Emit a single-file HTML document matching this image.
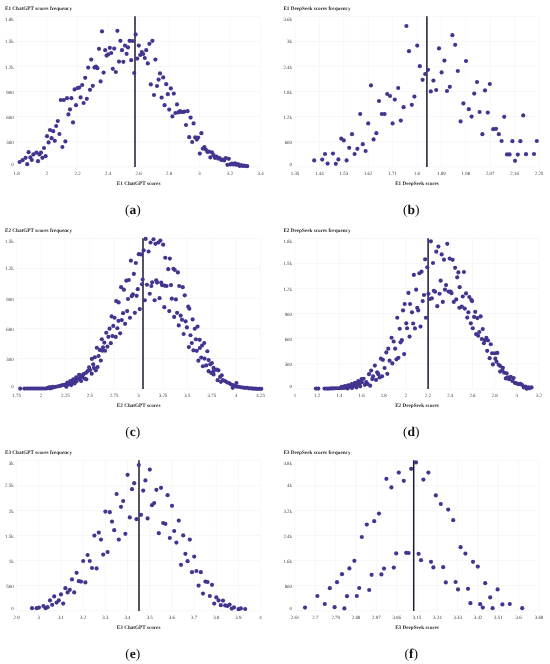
<!DOCTYPE html>
<html><head><meta charset="utf-8"><title>figure</title>
<style>
html,body{margin:0;padding:0;background:#fff;}
body{width:550px;height:664px;overflow:hidden;font-family:"Liberation Serif",serif;}
svg{display:block}
text{text-rendering:geometricPrecision}
.t{font-family:"Liberation Serif",serif;font-weight:bold;font-size:5.2px;fill:#2b2b2b}
.k{font-family:"Liberation Serif",serif;font-size:4.9px;fill:#404040}
.x{font-family:"Liberation Serif",serif;font-weight:bold;font-size:5.2px;fill:#2b2b2b}
.c{font-family:"Liberation Serif",serif;font-size:13.5px;fill:#111}
.g{stroke:#f1f1f1;stroke-width:0.6}
</style></head><body>
<svg width="550" height="664" viewBox="0 0 550 664" style="will-change:transform">
<rect width="550" height="664" fill="#fff"/>

<g>
<text class="t" x="5.0" y="10.0">E1 ChatGPT scores frequency</text>
<line class="g" x1="16.60" y1="16.40" x2="16.60" y2="166.70"/>
<text class="k" text-anchor="middle" x="16.60" y="174.50">1.8</text>
<line class="g" x1="47.10" y1="16.40" x2="47.10" y2="166.70"/>
<text class="k" text-anchor="middle" x="47.10" y="174.50">2</text>
<line class="g" x1="77.60" y1="16.40" x2="77.60" y2="166.70"/>
<text class="k" text-anchor="middle" x="77.60" y="174.50">2.2</text>
<line class="g" x1="108.10" y1="16.40" x2="108.10" y2="166.70"/>
<text class="k" text-anchor="middle" x="108.10" y="174.50">2.4</text>
<line class="g" x1="138.60" y1="16.40" x2="138.60" y2="166.70"/>
<text class="k" text-anchor="middle" x="138.60" y="174.50">2.6</text>
<line class="g" x1="169.10" y1="16.40" x2="169.10" y2="166.70"/>
<text class="k" text-anchor="middle" x="169.10" y="174.50">2.8</text>
<line class="g" x1="199.60" y1="16.40" x2="199.60" y2="166.70"/>
<text class="k" text-anchor="middle" x="199.60" y="174.50">3</text>
<line class="g" x1="230.10" y1="16.40" x2="230.10" y2="166.70"/>
<text class="k" text-anchor="middle" x="230.10" y="174.50">3.2</text>
<line class="g" x1="260.60" y1="16.40" x2="260.60" y2="166.70"/>
<text class="k" text-anchor="middle" x="260.60" y="174.50">3.4</text>
<line class="g" x1="16.60" y1="166.70" x2="260.60" y2="166.70"/>
<text class="k" text-anchor="end" x="13.60" y="166.30">0</text>
<line class="g" x1="16.60" y1="141.65" x2="260.60" y2="141.65"/>
<text class="k" text-anchor="end" x="13.60" y="143.65">300</text>
<line class="g" x1="16.60" y1="116.60" x2="260.60" y2="116.60"/>
<text class="k" text-anchor="end" x="13.60" y="118.60">600</text>
<line class="g" x1="16.60" y1="91.55" x2="260.60" y2="91.55"/>
<text class="k" text-anchor="end" x="13.60" y="93.55">900</text>
<line class="g" x1="16.60" y1="66.50" x2="260.60" y2="66.50"/>
<text class="k" text-anchor="end" x="13.60" y="68.50">1.2k</text>
<line class="g" x1="16.60" y1="41.45" x2="260.60" y2="41.45"/>
<text class="k" text-anchor="end" x="13.60" y="43.45">1.5k</text>
<line class="g" x1="16.60" y1="16.40" x2="260.60" y2="16.40"/>
<text class="k" text-anchor="end" x="13.60" y="21.10">1.8k</text>
<text class="x" text-anchor="middle" x="138.60" y="185.40">E1 ChatGPT scores</text>
<text class="c" text-anchor="middle" x="132.80" y="214.40">(<tspan font-weight="bold">a</tspan>)</text>
<line x1="135.00" y1="16.20" x2="135.00" y2="166.90" stroke="#1a1a2e" stroke-width="1.5"/>
<circle cx="19.6" cy="162.0" r="2.08" fill="#42348f"/>
<circle cx="22.6" cy="160.2" r="2.08" fill="#42348f"/>
<circle cx="25.6" cy="157.8" r="2.08" fill="#42348f"/>
<circle cx="27.2" cy="164.2" r="2.08" fill="#42348f"/>
<circle cx="28.6" cy="152.2" r="2.08" fill="#42348f"/>
<circle cx="30.4" cy="157.4" r="2.08" fill="#42348f"/>
<circle cx="31.8" cy="160.0" r="2.08" fill="#42348f"/>
<circle cx="33.4" cy="154.4" r="2.08" fill="#42348f"/>
<circle cx="36.4" cy="152.6" r="2.08" fill="#42348f"/>
<circle cx="38.0" cy="161.2" r="2.08" fill="#42348f"/>
<circle cx="39.4" cy="154.4" r="2.08" fill="#42348f"/>
<circle cx="41.0" cy="152.6" r="2.08" fill="#42348f"/>
<circle cx="42.4" cy="157.8" r="2.08" fill="#42348f"/>
<circle cx="44.0" cy="148.0" r="2.08" fill="#42348f"/>
<circle cx="45.6" cy="156.2" r="2.08" fill="#42348f"/>
<circle cx="47.0" cy="136.2" r="2.08" fill="#42348f"/>
<circle cx="48.6" cy="142.4" r="2.08" fill="#42348f"/>
<circle cx="50.0" cy="130.0" r="2.08" fill="#42348f"/>
<circle cx="51.6" cy="138.2" r="2.08" fill="#42348f"/>
<circle cx="53.2" cy="131.2" r="2.08" fill="#42348f"/>
<circle cx="54.8" cy="140.8" r="2.08" fill="#42348f"/>
<circle cx="56.2" cy="126.0" r="2.08" fill="#42348f"/>
<circle cx="57.8" cy="121.0" r="2.08" fill="#42348f"/>
<circle cx="59.4" cy="134.0" r="2.08" fill="#42348f"/>
<circle cx="62.4" cy="147.0" r="2.08" fill="#42348f"/>
<circle cx="65.4" cy="141.4" r="2.08" fill="#42348f"/>
<circle cx="60.8" cy="100.0" r="2.08" fill="#42348f"/>
<circle cx="63.8" cy="100.0" r="2.08" fill="#42348f"/>
<circle cx="67.0" cy="98.2" r="2.08" fill="#42348f"/>
<circle cx="71.4" cy="98.2" r="2.08" fill="#42348f"/>
<circle cx="68.4" cy="114.4" r="2.08" fill="#42348f"/>
<circle cx="70.0" cy="109.4" r="2.08" fill="#42348f"/>
<circle cx="73.0" cy="122.4" r="2.08" fill="#42348f"/>
<circle cx="76.0" cy="105.2" r="2.08" fill="#42348f"/>
<circle cx="80.6" cy="97.4" r="2.08" fill="#42348f"/>
<circle cx="83.6" cy="103.0" r="2.08" fill="#42348f"/>
<circle cx="86.8" cy="98.8" r="2.08" fill="#42348f"/>
<circle cx="74.6" cy="89.4" r="2.08" fill="#42348f"/>
<circle cx="77.6" cy="88.0" r="2.08" fill="#42348f"/>
<circle cx="79.2" cy="87.6" r="2.08" fill="#42348f"/>
<circle cx="82.2" cy="85.0" r="2.08" fill="#42348f"/>
<circle cx="85.2" cy="77.8" r="2.08" fill="#42348f"/>
<circle cx="88.2" cy="67.6" r="2.08" fill="#42348f"/>
<circle cx="90.0" cy="89.8" r="2.08" fill="#42348f"/>
<circle cx="91.2" cy="59.6" r="2.08" fill="#42348f"/>
<circle cx="92.8" cy="85.8" r="2.08" fill="#42348f"/>
<circle cx="94.4" cy="67.6" r="2.08" fill="#42348f"/>
<circle cx="96.0" cy="66.6" r="2.08" fill="#42348f"/>
<circle cx="97.4" cy="68.2" r="2.08" fill="#42348f"/>
<circle cx="99.0" cy="48.8" r="2.08" fill="#42348f"/>
<circle cx="100.6" cy="81.4" r="2.08" fill="#42348f"/>
<circle cx="102.0" cy="31.4" r="2.08" fill="#42348f"/>
<circle cx="103.6" cy="72.6" r="2.08" fill="#42348f"/>
<circle cx="105.2" cy="50.2" r="2.08" fill="#42348f"/>
<circle cx="106.6" cy="55.6" r="2.08" fill="#42348f"/>
<circle cx="108.2" cy="54.4" r="2.08" fill="#42348f"/>
<circle cx="109.8" cy="47.8" r="2.08" fill="#42348f"/>
<circle cx="111.2" cy="53.0" r="2.08" fill="#42348f"/>
<circle cx="112.8" cy="68.8" r="2.08" fill="#42348f"/>
<circle cx="114.2" cy="48.6" r="2.08" fill="#42348f"/>
<circle cx="115.8" cy="72.0" r="2.08" fill="#42348f"/>
<circle cx="117.4" cy="30.8" r="2.08" fill="#42348f"/>
<circle cx="119.0" cy="61.6" r="2.08" fill="#42348f"/>
<circle cx="120.4" cy="40.8" r="2.08" fill="#42348f"/>
<circle cx="122.0" cy="50.2" r="2.08" fill="#42348f"/>
<circle cx="123.4" cy="61.8" r="2.08" fill="#42348f"/>
<circle cx="125.0" cy="45.6" r="2.08" fill="#42348f"/>
<circle cx="126.6" cy="53.8" r="2.08" fill="#42348f"/>
<circle cx="128.0" cy="47.4" r="2.08" fill="#42348f"/>
<circle cx="129.6" cy="40.8" r="2.08" fill="#42348f"/>
<circle cx="131.2" cy="60.2" r="2.08" fill="#42348f"/>
<circle cx="132.6" cy="41.0" r="2.08" fill="#42348f"/>
<circle cx="134.2" cy="73.0" r="2.08" fill="#42348f"/>
<circle cx="135.6" cy="34.4" r="2.08" fill="#42348f"/>
<circle cx="137.2" cy="58.6" r="2.08" fill="#42348f"/>
<circle cx="138.8" cy="45.6" r="2.08" fill="#42348f"/>
<circle cx="140.2" cy="55.0" r="2.08" fill="#42348f"/>
<circle cx="141.8" cy="52.0" r="2.08" fill="#42348f"/>
<circle cx="143.2" cy="54.0" r="2.08" fill="#42348f"/>
<circle cx="144.8" cy="58.0" r="2.08" fill="#42348f"/>
<circle cx="146.2" cy="50.2" r="2.08" fill="#42348f"/>
<circle cx="147.8" cy="63.4" r="2.08" fill="#42348f"/>
<circle cx="149.4" cy="43.8" r="2.08" fill="#42348f"/>
<circle cx="150.8" cy="84.4" r="2.08" fill="#42348f"/>
<circle cx="152.4" cy="40.8" r="2.08" fill="#42348f"/>
<circle cx="154.0" cy="95.0" r="2.08" fill="#42348f"/>
<circle cx="155.4" cy="59.6" r="2.08" fill="#42348f"/>
<circle cx="157.0" cy="86.0" r="2.08" fill="#42348f"/>
<circle cx="158.6" cy="79.6" r="2.08" fill="#42348f"/>
<circle cx="160.0" cy="73.4" r="2.08" fill="#42348f"/>
<circle cx="163.2" cy="77.4" r="2.08" fill="#42348f"/>
<circle cx="166.2" cy="84.2" r="2.08" fill="#42348f"/>
<circle cx="161.6" cy="97.6" r="2.08" fill="#42348f"/>
<circle cx="164.6" cy="105.2" r="2.08" fill="#42348f"/>
<circle cx="167.8" cy="94.2" r="2.08" fill="#42348f"/>
<circle cx="169.2" cy="109.6" r="2.08" fill="#42348f"/>
<circle cx="170.8" cy="88.4" r="2.08" fill="#42348f"/>
<circle cx="172.4" cy="116.4" r="2.08" fill="#42348f"/>
<circle cx="173.8" cy="93.6" r="2.08" fill="#42348f"/>
<circle cx="175.4" cy="113.0" r="2.08" fill="#42348f"/>
<circle cx="177.0" cy="104.4" r="2.08" fill="#42348f"/>
<circle cx="178.4" cy="112.4" r="2.08" fill="#42348f"/>
<circle cx="180.0" cy="111.0" r="2.08" fill="#42348f"/>
<circle cx="181.4" cy="112.0" r="2.08" fill="#42348f"/>
<circle cx="183.0" cy="112.0" r="2.08" fill="#42348f"/>
<circle cx="184.4" cy="111.6" r="2.08" fill="#42348f"/>
<circle cx="186.0" cy="125.0" r="2.08" fill="#42348f"/>
<circle cx="187.6" cy="111.2" r="2.08" fill="#42348f"/>
<circle cx="190.6" cy="117.6" r="2.08" fill="#42348f"/>
<circle cx="193.6" cy="123.4" r="2.08" fill="#42348f"/>
<circle cx="189.2" cy="137.2" r="2.08" fill="#42348f"/>
<circle cx="192.2" cy="142.0" r="2.08" fill="#42348f"/>
<circle cx="195.2" cy="137.4" r="2.08" fill="#42348f"/>
<circle cx="196.8" cy="139.6" r="2.08" fill="#42348f"/>
<circle cx="198.2" cy="137.6" r="2.08" fill="#42348f"/>
<circle cx="199.8" cy="153.6" r="2.08" fill="#42348f"/>
<circle cx="201.4" cy="133.2" r="2.08" fill="#42348f"/>
<circle cx="202.8" cy="148.6" r="2.08" fill="#42348f"/>
<circle cx="204.4" cy="147.0" r="2.08" fill="#42348f"/>
<circle cx="205.8" cy="149.6" r="2.08" fill="#42348f"/>
<circle cx="207.4" cy="152.0" r="2.08" fill="#42348f"/>
<circle cx="209.0" cy="151.6" r="2.08" fill="#42348f"/>
<circle cx="210.4" cy="157.4" r="2.08" fill="#42348f"/>
<circle cx="212.0" cy="152.4" r="2.08" fill="#42348f"/>
<circle cx="213.6" cy="155.2" r="2.08" fill="#42348f"/>
<circle cx="215.0" cy="158.0" r="2.08" fill="#42348f"/>
<circle cx="216.6" cy="156.6" r="2.08" fill="#42348f"/>
<circle cx="218.2" cy="158.6" r="2.08" fill="#42348f"/>
<circle cx="219.6" cy="158.0" r="2.08" fill="#42348f"/>
<circle cx="221.2" cy="160.0" r="2.08" fill="#42348f"/>
<circle cx="222.8" cy="159.6" r="2.08" fill="#42348f"/>
<circle cx="224.2" cy="160.4" r="2.08" fill="#42348f"/>
<circle cx="225.8" cy="158.0" r="2.08" fill="#42348f"/>
<circle cx="227.4" cy="164.8" r="2.08" fill="#42348f"/>
<circle cx="228.8" cy="158.8" r="2.08" fill="#42348f"/>
<circle cx="230.4" cy="164.4" r="2.08" fill="#42348f"/>
<circle cx="232.0" cy="163.6" r="2.08" fill="#42348f"/>
<circle cx="233.4" cy="164.4" r="2.08" fill="#42348f"/>
<circle cx="235.0" cy="163.4" r="2.08" fill="#42348f"/>
<circle cx="236.4" cy="164.8" r="2.08" fill="#42348f"/>
<circle cx="238.0" cy="164.0" r="2.08" fill="#42348f"/>
<circle cx="239.6" cy="166.0" r="2.08" fill="#42348f"/>
<circle cx="241.0" cy="165.0" r="2.08" fill="#42348f"/>
<circle cx="242.6" cy="166.0" r="2.08" fill="#42348f"/>
<circle cx="244.0" cy="165.6" r="2.08" fill="#42348f"/>
<circle cx="245.6" cy="166.0" r="2.08" fill="#42348f"/>
<circle cx="247.2" cy="166.2" r="2.08" fill="#42348f"/>
</g>
<g>
<text class="t" x="283.4" y="10.0">E1 DeepSeek scores frequency</text>
<line class="g" x1="295.00" y1="16.40" x2="295.00" y2="166.70"/>
<text class="k" text-anchor="middle" x="295.00" y="174.50">1.35</text>
<line class="g" x1="319.40" y1="16.40" x2="319.40" y2="166.70"/>
<text class="k" text-anchor="middle" x="319.40" y="174.50">1.44</text>
<line class="g" x1="343.80" y1="16.40" x2="343.80" y2="166.70"/>
<text class="k" text-anchor="middle" x="343.80" y="174.50">1.53</text>
<line class="g" x1="368.20" y1="16.40" x2="368.20" y2="166.70"/>
<text class="k" text-anchor="middle" x="368.20" y="174.50">1.62</text>
<line class="g" x1="392.60" y1="16.40" x2="392.60" y2="166.70"/>
<text class="k" text-anchor="middle" x="392.60" y="174.50">1.71</text>
<line class="g" x1="417.00" y1="16.40" x2="417.00" y2="166.70"/>
<text class="k" text-anchor="middle" x="417.00" y="174.50">1.8</text>
<line class="g" x1="441.40" y1="16.40" x2="441.40" y2="166.70"/>
<text class="k" text-anchor="middle" x="441.40" y="174.50">1.89</text>
<line class="g" x1="465.80" y1="16.40" x2="465.80" y2="166.70"/>
<text class="k" text-anchor="middle" x="465.80" y="174.50">1.98</text>
<line class="g" x1="490.20" y1="16.40" x2="490.20" y2="166.70"/>
<text class="k" text-anchor="middle" x="490.20" y="174.50">2.07</text>
<line class="g" x1="514.60" y1="16.40" x2="514.60" y2="166.70"/>
<text class="k" text-anchor="middle" x="514.60" y="174.50">2.16</text>
<line class="g" x1="539.00" y1="16.40" x2="539.00" y2="166.70"/>
<text class="k" text-anchor="middle" x="539.00" y="174.50">2.25</text>
<line class="g" x1="295.00" y1="166.70" x2="539.00" y2="166.70"/>
<text class="k" text-anchor="end" x="292.00" y="166.30">0</text>
<line class="g" x1="295.00" y1="141.65" x2="539.00" y2="141.65"/>
<text class="k" text-anchor="end" x="292.00" y="143.65">600</text>
<line class="g" x1="295.00" y1="116.60" x2="539.00" y2="116.60"/>
<text class="k" text-anchor="end" x="292.00" y="118.60">1.2k</text>
<line class="g" x1="295.00" y1="91.55" x2="539.00" y2="91.55"/>
<text class="k" text-anchor="end" x="292.00" y="93.55">1.8k</text>
<line class="g" x1="295.00" y1="66.50" x2="539.00" y2="66.50"/>
<text class="k" text-anchor="end" x="292.00" y="68.50">2.4k</text>
<line class="g" x1="295.00" y1="41.45" x2="539.00" y2="41.45"/>
<text class="k" text-anchor="end" x="292.00" y="43.45">3k</text>
<line class="g" x1="295.00" y1="16.40" x2="539.00" y2="16.40"/>
<text class="k" text-anchor="end" x="292.00" y="21.10">3.6k</text>
<text class="x" text-anchor="middle" x="417.00" y="185.40">E1 DeepSeek scores</text>
<text class="c" text-anchor="middle" x="411.20" y="214.40">(<tspan font-weight="bold">b</tspan>)</text>
<line x1="426.90" y1="16.20" x2="426.90" y2="166.90" stroke="#1a1a2e" stroke-width="1.5"/>
<circle cx="314.2" cy="160.4" r="2.08" fill="#42348f"/>
<circle cx="322.2" cy="159.6" r="2.08" fill="#42348f"/>
<circle cx="325.0" cy="154.0" r="2.08" fill="#42348f"/>
<circle cx="327.6" cy="163.6" r="2.08" fill="#42348f"/>
<circle cx="333.0" cy="153.6" r="2.08" fill="#42348f"/>
<circle cx="335.8" cy="163.8" r="2.08" fill="#42348f"/>
<circle cx="338.4" cy="159.4" r="2.08" fill="#42348f"/>
<circle cx="341.2" cy="138.6" r="2.08" fill="#42348f"/>
<circle cx="343.8" cy="140.4" r="2.08" fill="#42348f"/>
<circle cx="346.6" cy="160.4" r="2.08" fill="#42348f"/>
<circle cx="349.2" cy="147.8" r="2.08" fill="#42348f"/>
<circle cx="352.0" cy="134.2" r="2.08" fill="#42348f"/>
<circle cx="354.6" cy="154.0" r="2.08" fill="#42348f"/>
<circle cx="357.4" cy="148.8" r="2.08" fill="#42348f"/>
<circle cx="360.2" cy="114.0" r="2.08" fill="#42348f"/>
<circle cx="362.8" cy="144.2" r="2.08" fill="#42348f"/>
<circle cx="365.6" cy="151.0" r="2.08" fill="#42348f"/>
<circle cx="368.2" cy="123.4" r="2.08" fill="#42348f"/>
<circle cx="373.6" cy="139.4" r="2.08" fill="#42348f"/>
<circle cx="376.4" cy="133.2" r="2.08" fill="#42348f"/>
<circle cx="379.0" cy="101.0" r="2.08" fill="#42348f"/>
<circle cx="381.8" cy="114.0" r="2.08" fill="#42348f"/>
<circle cx="384.6" cy="114.0" r="2.08" fill="#42348f"/>
<circle cx="387.2" cy="94.0" r="2.08" fill="#42348f"/>
<circle cx="390.0" cy="96.0" r="2.08" fill="#42348f"/>
<circle cx="392.6" cy="123.4" r="2.08" fill="#42348f"/>
<circle cx="394.8" cy="99.6" r="2.08" fill="#42348f"/>
<circle cx="398.2" cy="88.0" r="2.08" fill="#42348f"/>
<circle cx="406.4" cy="26.0" r="2.08" fill="#42348f"/>
<circle cx="409.0" cy="51.2" r="2.08" fill="#42348f"/>
<circle cx="417.2" cy="45.6" r="2.08" fill="#42348f"/>
<circle cx="419.8" cy="66.2" r="2.08" fill="#42348f"/>
<circle cx="422.6" cy="79.8" r="2.08" fill="#42348f"/>
<circle cx="425.2" cy="74.0" r="2.08" fill="#42348f"/>
<circle cx="428.0" cy="69.8" r="2.08" fill="#42348f"/>
<circle cx="430.8" cy="91.4" r="2.08" fill="#42348f"/>
<circle cx="433.4" cy="80.6" r="2.08" fill="#42348f"/>
<circle cx="436.2" cy="90.0" r="2.08" fill="#42348f"/>
<circle cx="439.0" cy="48.4" r="2.08" fill="#42348f"/>
<circle cx="441.6" cy="72.4" r="2.08" fill="#42348f"/>
<circle cx="444.4" cy="60.6" r="2.08" fill="#42348f"/>
<circle cx="447.0" cy="91.0" r="2.08" fill="#42348f"/>
<circle cx="449.8" cy="86.8" r="2.08" fill="#42348f"/>
<circle cx="452.4" cy="35.2" r="2.08" fill="#42348f"/>
<circle cx="455.2" cy="44.8" r="2.08" fill="#42348f"/>
<circle cx="457.8" cy="71.0" r="2.08" fill="#42348f"/>
<circle cx="466.0" cy="61.0" r="2.08" fill="#42348f"/>
<circle cx="474.2" cy="93.6" r="2.08" fill="#42348f"/>
<circle cx="477.0" cy="82.0" r="2.08" fill="#42348f"/>
<circle cx="485.0" cy="90.4" r="2.08" fill="#42348f"/>
<circle cx="489.8" cy="84.0" r="2.08" fill="#42348f"/>
<circle cx="400.8" cy="120.6" r="2.08" fill="#42348f"/>
<circle cx="403.6" cy="107.2" r="2.08" fill="#42348f"/>
<circle cx="411.8" cy="104.8" r="2.08" fill="#42348f"/>
<circle cx="414.4" cy="96.6" r="2.08" fill="#42348f"/>
<circle cx="460.6" cy="121.4" r="2.08" fill="#42348f"/>
<circle cx="463.4" cy="103.4" r="2.08" fill="#42348f"/>
<circle cx="468.8" cy="109.2" r="2.08" fill="#42348f"/>
<circle cx="471.6" cy="116.6" r="2.08" fill="#42348f"/>
<circle cx="479.6" cy="112.0" r="2.08" fill="#42348f"/>
<circle cx="482.4" cy="134.2" r="2.08" fill="#42348f"/>
<circle cx="487.8" cy="112.6" r="2.08" fill="#42348f"/>
<circle cx="493.2" cy="129.2" r="2.08" fill="#42348f"/>
<circle cx="496.0" cy="128.8" r="2.08" fill="#42348f"/>
<circle cx="498.8" cy="134.2" r="2.08" fill="#42348f"/>
<circle cx="501.6" cy="141.0" r="2.08" fill="#42348f"/>
<circle cx="504.2" cy="116.8" r="2.08" fill="#42348f"/>
<circle cx="507.0" cy="154.4" r="2.08" fill="#42348f"/>
<circle cx="509.6" cy="154.4" r="2.08" fill="#42348f"/>
<circle cx="512.4" cy="141.2" r="2.08" fill="#42348f"/>
<circle cx="515.0" cy="160.8" r="2.08" fill="#42348f"/>
<circle cx="517.8" cy="154.6" r="2.08" fill="#42348f"/>
<circle cx="520.4" cy="141.2" r="2.08" fill="#42348f"/>
<circle cx="523.2" cy="115.4" r="2.08" fill="#42348f"/>
<circle cx="526.0" cy="154.2" r="2.08" fill="#42348f"/>
<circle cx="534.0" cy="154.0" r="2.08" fill="#42348f"/>
<circle cx="536.8" cy="141.0" r="2.08" fill="#42348f"/>
<circle cx="371.0" cy="85.4" r="2.08" fill="#42348f"/>
</g>
<g>
<text class="t" x="5.0" y="232.0">E2 ChatGPT scores frequency</text>
<line class="g" x1="16.60" y1="238.40" x2="16.60" y2="388.70"/>
<text class="k" text-anchor="middle" x="16.60" y="396.50">1.75</text>
<line class="g" x1="41.00" y1="238.40" x2="41.00" y2="388.70"/>
<text class="k" text-anchor="middle" x="41.00" y="396.50">2</text>
<line class="g" x1="65.40" y1="238.40" x2="65.40" y2="388.70"/>
<text class="k" text-anchor="middle" x="65.40" y="396.50">2.25</text>
<line class="g" x1="89.80" y1="238.40" x2="89.80" y2="388.70"/>
<text class="k" text-anchor="middle" x="89.80" y="396.50">2.5</text>
<line class="g" x1="114.20" y1="238.40" x2="114.20" y2="388.70"/>
<text class="k" text-anchor="middle" x="114.20" y="396.50">2.75</text>
<line class="g" x1="138.60" y1="238.40" x2="138.60" y2="388.70"/>
<text class="k" text-anchor="middle" x="138.60" y="396.50">3</text>
<line class="g" x1="163.00" y1="238.40" x2="163.00" y2="388.70"/>
<text class="k" text-anchor="middle" x="163.00" y="396.50">3.25</text>
<line class="g" x1="187.40" y1="238.40" x2="187.40" y2="388.70"/>
<text class="k" text-anchor="middle" x="187.40" y="396.50">3.5</text>
<line class="g" x1="211.80" y1="238.40" x2="211.80" y2="388.70"/>
<text class="k" text-anchor="middle" x="211.80" y="396.50">3.75</text>
<line class="g" x1="236.20" y1="238.40" x2="236.20" y2="388.70"/>
<text class="k" text-anchor="middle" x="236.20" y="396.50">4</text>
<line class="g" x1="260.60" y1="238.40" x2="260.60" y2="388.70"/>
<text class="k" text-anchor="middle" x="260.60" y="396.50">4.25</text>
<line class="g" x1="16.60" y1="388.70" x2="260.60" y2="388.70"/>
<text class="k" text-anchor="end" x="13.60" y="388.30">0</text>
<line class="g" x1="16.60" y1="358.64" x2="260.60" y2="358.64"/>
<text class="k" text-anchor="end" x="13.60" y="360.64">300</text>
<line class="g" x1="16.60" y1="328.58" x2="260.60" y2="328.58"/>
<text class="k" text-anchor="end" x="13.60" y="330.58">600</text>
<line class="g" x1="16.60" y1="298.52" x2="260.60" y2="298.52"/>
<text class="k" text-anchor="end" x="13.60" y="300.52">900</text>
<line class="g" x1="16.60" y1="268.46" x2="260.60" y2="268.46"/>
<text class="k" text-anchor="end" x="13.60" y="270.46">1.2k</text>
<line class="g" x1="16.60" y1="238.40" x2="260.60" y2="238.40"/>
<text class="k" text-anchor="end" x="13.60" y="243.10">1.5k</text>
<text class="x" text-anchor="middle" x="138.60" y="407.40">E2 ChatGPT scores</text>
<text class="c" text-anchor="middle" x="132.80" y="436.40">(<tspan font-weight="bold">c</tspan>)</text>
<line x1="143.00" y1="238.20" x2="143.00" y2="388.90" stroke="#1a1a2e" stroke-width="1.5"/>
<circle cx="116.18" cy="301.09" r="2.08" fill="#42348f"/>
<circle cx="118.64" cy="302.4" r="2.08" fill="#42348f"/>
<circle cx="121.09" cy="287.18" r="2.08" fill="#42348f"/>
<circle cx="123.87" cy="289.64" r="2.08" fill="#42348f"/>
<circle cx="126.33" cy="280.64" r="2.08" fill="#42348f"/>
<circle cx="127.96" cy="298.96" r="2.08" fill="#42348f"/>
<circle cx="128.78" cy="279.98" r="2.08" fill="#42348f"/>
<circle cx="130.91" cy="260.67" r="2.08" fill="#42348f"/>
<circle cx="131.73" cy="296.18" r="2.08" fill="#42348f"/>
<circle cx="132.87" cy="294.22" r="2.08" fill="#42348f"/>
<circle cx="133.85" cy="273.93" r="2.08" fill="#42348f"/>
<circle cx="135.82" cy="262.96" r="2.08" fill="#42348f"/>
<circle cx="136.64" cy="295.85" r="2.08" fill="#42348f"/>
<circle cx="137.78" cy="289.15" r="2.08" fill="#42348f"/>
<circle cx="138.76" cy="254.13" r="2.08" fill="#42348f"/>
<circle cx="141.05" cy="254.45" r="2.08" fill="#42348f"/>
<circle cx="142.04" cy="284.24" r="2.08" fill="#42348f"/>
<circle cx="142.69" cy="279.49" r="2.08" fill="#42348f"/>
<circle cx="143.67" cy="250.36" r="2.08" fill="#42348f"/>
<circle cx="144.82" cy="300.27" r="2.08" fill="#42348f"/>
<circle cx="145.64" cy="238.91" r="2.08" fill="#42348f"/>
<circle cx="146.95" cy="284.73" r="2.08" fill="#42348f"/>
<circle cx="148.58" cy="251.51" r="2.08" fill="#42348f"/>
<circle cx="149.73" cy="293.73" r="2.08" fill="#42348f"/>
<circle cx="150.55" cy="242.51" r="2.08" fill="#42348f"/>
<circle cx="151.36" cy="286.04" r="2.08" fill="#42348f"/>
<circle cx="152.18" cy="282.27" r="2.08" fill="#42348f"/>
<circle cx="153.49" cy="239.24" r="2.08" fill="#42348f"/>
<circle cx="154.64" cy="300.27" r="2.08" fill="#42348f"/>
<circle cx="155.45" cy="243.82" r="2.08" fill="#42348f"/>
<circle cx="156.27" cy="280.31" r="2.08" fill="#42348f"/>
<circle cx="157.09" cy="282.6" r="2.08" fill="#42348f"/>
<circle cx="158.4" cy="242.51" r="2.08" fill="#42348f"/>
<circle cx="159.55" cy="298.15" r="2.08" fill="#42348f"/>
<circle cx="160.36" cy="240.55" r="2.08" fill="#42348f"/>
<circle cx="161.18" cy="282.6" r="2.08" fill="#42348f"/>
<circle cx="162.0" cy="285.05" r="2.08" fill="#42348f"/>
<circle cx="163.15" cy="244.64" r="2.08" fill="#42348f"/>
<circle cx="164.45" cy="285.55" r="2.08" fill="#42348f"/>
<circle cx="165.27" cy="257.73" r="2.08" fill="#42348f"/>
<circle cx="166.58" cy="286.04" r="2.08" fill="#42348f"/>
<circle cx="168.22" cy="269.18" r="2.08" fill="#42348f"/>
<circle cx="169.85" cy="258.55" r="2.08" fill="#42348f"/>
<circle cx="171.0" cy="285.05" r="2.08" fill="#42348f"/>
<circle cx="171.82" cy="298.64" r="2.08" fill="#42348f"/>
<circle cx="173.45" cy="268.85" r="2.08" fill="#42348f"/>
<circle cx="174.76" cy="270.0" r="2.08" fill="#42348f"/>
<circle cx="175.91" cy="299.45" r="2.08" fill="#42348f"/>
<circle cx="177.87" cy="272.45" r="2.08" fill="#42348f"/>
<circle cx="179.18" cy="286.04" r="2.08" fill="#42348f"/>
<circle cx="182.76" cy="287.18" r="2.08" fill="#42348f"/>
<circle cx="184.73" cy="295.36" r="2.08" fill="#42348f"/>
<circle cx="110.82" cy="343.13" r="2.08" fill="#42348f"/>
<circle cx="111.64" cy="316.45" r="2.08" fill="#42348f"/>
<circle cx="112.45" cy="336.09" r="2.08" fill="#42348f"/>
<circle cx="113.27" cy="325.95" r="2.08" fill="#42348f"/>
<circle cx="114.58" cy="317.76" r="2.08" fill="#42348f"/>
<circle cx="115.73" cy="336.91" r="2.08" fill="#42348f"/>
<circle cx="117.36" cy="328.24" r="2.08" fill="#42348f"/>
<circle cx="118.51" cy="320.87" r="2.08" fill="#42348f"/>
<circle cx="120.15" cy="333.31" r="2.08" fill="#42348f"/>
<circle cx="121.78" cy="320.05" r="2.08" fill="#42348f"/>
<circle cx="123.09" cy="313.18" r="2.08" fill="#42348f"/>
<circle cx="125.05" cy="323.82" r="2.08" fill="#42348f"/>
<circle cx="127.18" cy="311.05" r="2.08" fill="#42348f"/>
<circle cx="129.96" cy="317.76" r="2.08" fill="#42348f"/>
<circle cx="134.87" cy="312.85" r="2.08" fill="#42348f"/>
<circle cx="139.78" cy="309.09" r="2.08" fill="#42348f"/>
<circle cx="164.33" cy="307.13" r="2.08" fill="#42348f"/>
<circle cx="169.24" cy="311.05" r="2.08" fill="#42348f"/>
<circle cx="174.15" cy="316.95" r="2.08" fill="#42348f"/>
<circle cx="177.09" cy="312.85" r="2.08" fill="#42348f"/>
<circle cx="178.73" cy="325.45" r="2.08" fill="#42348f"/>
<circle cx="180.69" cy="315.64" r="2.08" fill="#42348f"/>
<circle cx="182.0" cy="319.73" r="2.08" fill="#42348f"/>
<circle cx="183.64" cy="333.96" r="2.08" fill="#42348f"/>
<circle cx="185.6" cy="321.36" r="2.08" fill="#42348f"/>
<circle cx="186.91" cy="327.42" r="2.08" fill="#42348f"/>
<circle cx="188.22" cy="306.64" r="2.08" fill="#42348f"/>
<circle cx="189.36" cy="308.76" r="2.08" fill="#42348f"/>
<circle cx="188.87" cy="347.05" r="2.08" fill="#42348f"/>
<circle cx="190.51" cy="335.27" r="2.08" fill="#42348f"/>
<circle cx="191.82" cy="342.96" r="2.08" fill="#42348f"/>
<circle cx="192.64" cy="319.4" r="2.08" fill="#42348f"/>
<circle cx="193.45" cy="350.33" r="2.08" fill="#42348f"/>
<circle cx="194.76" cy="328.73" r="2.08" fill="#42348f"/>
<circle cx="195.91" cy="339.36" r="2.08" fill="#42348f"/>
<circle cx="196.73" cy="350.82" r="2.08" fill="#42348f"/>
<circle cx="197.55" cy="326.6" r="2.08" fill="#42348f"/>
<circle cx="198.36" cy="360.64" r="2.08" fill="#42348f"/>
<circle cx="199.67" cy="339.85" r="2.08" fill="#42348f"/>
<circle cx="199.84" cy="348.04" r="2.08" fill="#42348f"/>
<circle cx="89.09" cy="367.42" r="2.08" fill="#42348f"/>
<circle cx="91.87" cy="358.91" r="2.08" fill="#42348f"/>
<circle cx="93.18" cy="364.31" r="2.08" fill="#42348f"/>
<circle cx="94.0" cy="367.91" r="2.08" fill="#42348f"/>
<circle cx="94.82" cy="357.27" r="2.08" fill="#42348f"/>
<circle cx="96.78" cy="347.78" r="2.08" fill="#42348f"/>
<circle cx="97.6" cy="367.09" r="2.08" fill="#42348f"/>
<circle cx="98.58" cy="355.96" r="2.08" fill="#42348f"/>
<circle cx="99.73" cy="349.91" r="2.08" fill="#42348f"/>
<circle cx="100.87" cy="360.55" r="2.08" fill="#42348f"/>
<circle cx="101.85" cy="339.27" r="2.08" fill="#42348f"/>
<circle cx="103.0" cy="347.45" r="2.08" fill="#42348f"/>
<circle cx="104.31" cy="342.55" r="2.08" fill="#42348f"/>
<circle cx="105.13" cy="350.73" r="2.08" fill="#42348f"/>
<circle cx="106.27" cy="332.73" r="2.08" fill="#42348f"/>
<circle cx="107.42" cy="346.64" r="2.08" fill="#42348f"/>
<circle cx="108.4" cy="336.82" r="2.08" fill="#42348f"/>
<circle cx="109.55" cy="328.64" r="2.08" fill="#42348f"/>
<circle cx="202.09" cy="345.49" r="2.08" fill="#42348f"/>
<circle cx="204.22" cy="343.04" r="2.08" fill="#42348f"/>
<circle cx="201.27" cy="357.6" r="2.08" fill="#42348f"/>
<circle cx="202.91" cy="366.27" r="2.08" fill="#42348f"/>
<circle cx="204.55" cy="358.58" r="2.08" fill="#42348f"/>
<circle cx="206.18" cy="365.45" r="2.08" fill="#42348f"/>
<circle cx="207.33" cy="351.22" r="2.08" fill="#42348f"/>
<circle cx="208.64" cy="360.05" r="2.08" fill="#42348f"/>
<circle cx="210.27" cy="364.31" r="2.08" fill="#42348f"/>
<circle cx="211.91" cy="363.0" r="2.08" fill="#42348f"/>
<circle cx="213.55" cy="367.91" r="2.08" fill="#42348f"/>
<circle cx="216.82" cy="369.55" r="2.08" fill="#42348f"/>
<circle cx="50.0" cy="388.36" r="2.08" fill="#42348f"/>
<circle cx="51.96" cy="387.87" r="2.08" fill="#42348f"/>
<circle cx="54.09" cy="387.22" r="2.08" fill="#42348f"/>
<circle cx="56.05" cy="386.73" r="2.08" fill="#42348f"/>
<circle cx="58.18" cy="386.24" r="2.08" fill="#42348f"/>
<circle cx="60.15" cy="385.91" r="2.08" fill="#42348f"/>
<circle cx="62.27" cy="385.09" r="2.08" fill="#42348f"/>
<circle cx="64.24" cy="384.76" r="2.08" fill="#42348f"/>
<circle cx="66.36" cy="384.27" r="2.08" fill="#42348f"/>
<circle cx="66.36" cy="386.73" r="2.08" fill="#42348f"/>
<circle cx="68.33" cy="383.13" r="2.08" fill="#42348f"/>
<circle cx="70.45" cy="382.31" r="2.08" fill="#42348f"/>
<circle cx="71.27" cy="385.09" r="2.08" fill="#42348f"/>
<circle cx="72.42" cy="381.0" r="2.08" fill="#42348f"/>
<circle cx="74.55" cy="383.45" r="2.08" fill="#42348f"/>
<circle cx="75.36" cy="379.85" r="2.08" fill="#42348f"/>
<circle cx="76.51" cy="381.33" r="2.08" fill="#42348f"/>
<circle cx="78.64" cy="378.55" r="2.08" fill="#42348f"/>
<circle cx="80.27" cy="375.27" r="2.08" fill="#42348f"/>
<circle cx="81.09" cy="381.0" r="2.08" fill="#42348f"/>
<circle cx="82.24" cy="376.91" r="2.08" fill="#42348f"/>
<circle cx="83.55" cy="374.13" r="2.08" fill="#42348f"/>
<circle cx="84.69" cy="378.55" r="2.08" fill="#42348f"/>
<circle cx="86.0" cy="372.82" r="2.08" fill="#42348f"/>
<circle cx="86.33" cy="379.36" r="2.08" fill="#42348f"/>
<circle cx="87.64" cy="371.18" r="2.08" fill="#42348f"/>
<circle cx="90.09" cy="370.04" r="2.08" fill="#42348f"/>
<circle cx="91.73" cy="373.64" r="2.08" fill="#42348f"/>
<circle cx="95.82" cy="370.36" r="2.08" fill="#42348f"/>
<circle cx="102.36" cy="350.73" r="2.08" fill="#42348f"/>
<circle cx="208.64" cy="371.18" r="2.08" fill="#42348f"/>
<circle cx="211.09" cy="372.82" r="2.08" fill="#42348f"/>
<circle cx="213.55" cy="371.18" r="2.08" fill="#42348f"/>
<circle cx="218.45" cy="370.36" r="2.08" fill="#42348f"/>
<circle cx="213.55" cy="374.45" r="2.08" fill="#42348f"/>
<circle cx="217.64" cy="380.18" r="2.08" fill="#42348f"/>
<circle cx="220.09" cy="376.91" r="2.08" fill="#42348f"/>
<circle cx="221.73" cy="375.27" r="2.08" fill="#42348f"/>
<circle cx="220.91" cy="381.82" r="2.08" fill="#42348f"/>
<circle cx="222.87" cy="380.18" r="2.08" fill="#42348f"/>
<circle cx="225.0" cy="381.0" r="2.08" fill="#42348f"/>
<circle cx="226.96" cy="382.31" r="2.08" fill="#42348f"/>
<circle cx="229.09" cy="382.96" r="2.08" fill="#42348f"/>
<circle cx="230.73" cy="384.27" r="2.08" fill="#42348f"/>
<circle cx="232.69" cy="385.09" r="2.08" fill="#42348f"/>
<circle cx="232.69" cy="387.87" r="2.08" fill="#42348f"/>
<circle cx="234.82" cy="385.91" r="2.08" fill="#42348f"/>
<circle cx="236.45" cy="382.96" r="2.08" fill="#42348f"/>
<circle cx="236.78" cy="386.73" r="2.08" fill="#42348f"/>
<circle cx="238.91" cy="386.73" r="2.08" fill="#42348f"/>
<circle cx="240.87" cy="387.22" r="2.08" fill="#42348f"/>
<circle cx="243.0" cy="387.55" r="2.08" fill="#42348f"/>
<circle cx="244.96" cy="387.87" r="2.08" fill="#42348f"/>
<circle cx="247.09" cy="387.87" r="2.08" fill="#42348f"/>
<circle cx="249.05" cy="388.36" r="2.08" fill="#42348f"/>
<circle cx="251.18" cy="388.36" r="2.08" fill="#42348f"/>
<circle cx="253.15" cy="388.69" r="2.08" fill="#42348f"/>
<circle cx="255.27" cy="388.69" r="2.08" fill="#42348f"/>
<circle cx="257.24" cy="388.85" r="2.08" fill="#42348f"/>
<circle cx="259.36" cy="388.85" r="2.08" fill="#42348f"/>
<circle cx="261.33" cy="388.85" r="2.08" fill="#42348f"/>
<circle cx="20.2" cy="388.6" r="2.08" fill="#42348f"/>
<circle cx="24.4" cy="388.6" r="2.08" fill="#42348f"/>
<circle cx="27.0" cy="388.5" r="2.08" fill="#42348f"/>
<circle cx="28.95" cy="388.5" r="2.08" fill="#42348f"/>
<circle cx="30.9" cy="388.5" r="2.08" fill="#42348f"/>
<circle cx="32.85" cy="388.5" r="2.08" fill="#42348f"/>
<circle cx="34.8" cy="388.5" r="2.08" fill="#42348f"/>
<circle cx="36.75" cy="388.5" r="2.08" fill="#42348f"/>
<circle cx="38.7" cy="388.5" r="2.08" fill="#42348f"/>
<circle cx="40.65" cy="388.5" r="2.08" fill="#42348f"/>
<circle cx="42.6" cy="388.5" r="2.08" fill="#42348f"/>
<circle cx="44.55" cy="388.5" r="2.08" fill="#42348f"/>
<circle cx="46.5" cy="388.5" r="2.08" fill="#42348f"/>
<circle cx="47.83" cy="387.91" r="2.08" fill="#42348f"/>
<circle cx="48.81" cy="387.63" r="2.08" fill="#42348f"/>
<circle cx="49.78" cy="387.31" r="2.08" fill="#42348f"/>
<circle cx="50.76" cy="387.69" r="2.08" fill="#42348f"/>
<circle cx="52.71" cy="386.9" r="2.08" fill="#42348f"/>
<circle cx="65.4" cy="385.34" r="2.08" fill="#42348f"/>
<circle cx="67.35" cy="382.68" r="2.08" fill="#42348f"/>
<circle cx="68.33" cy="384.49" r="2.08" fill="#42348f"/>
<circle cx="70.28" cy="381.19" r="2.08" fill="#42348f"/>
<circle cx="71.26" cy="383.47" r="2.08" fill="#42348f"/>
<circle cx="73.21" cy="379.4" r="2.08" fill="#42348f"/>
<circle cx="74.18" cy="382.25" r="2.08" fill="#42348f"/>
<circle cx="76.14" cy="377.27" r="2.08" fill="#42348f"/>
<circle cx="79.06" cy="374.77" r="2.08" fill="#42348f"/>
<circle cx="80.04" cy="379.11" r="2.08" fill="#42348f"/>
</g>
<g>
<text class="t" x="283.4" y="232.0">E2 DeepSeek scores frequency</text>
<line class="g" x1="295.00" y1="238.40" x2="295.00" y2="388.70"/>
<text class="k" text-anchor="middle" x="295.00" y="396.50">1</text>
<line class="g" x1="317.18" y1="238.40" x2="317.18" y2="388.70"/>
<text class="k" text-anchor="middle" x="317.18" y="396.50">1.2</text>
<line class="g" x1="339.36" y1="238.40" x2="339.36" y2="388.70"/>
<text class="k" text-anchor="middle" x="339.36" y="396.50">1.4</text>
<line class="g" x1="361.55" y1="238.40" x2="361.55" y2="388.70"/>
<text class="k" text-anchor="middle" x="361.55" y="396.50">1.6</text>
<line class="g" x1="383.73" y1="238.40" x2="383.73" y2="388.70"/>
<text class="k" text-anchor="middle" x="383.73" y="396.50">1.8</text>
<line class="g" x1="405.91" y1="238.40" x2="405.91" y2="388.70"/>
<text class="k" text-anchor="middle" x="405.91" y="396.50">2</text>
<line class="g" x1="428.09" y1="238.40" x2="428.09" y2="388.70"/>
<text class="k" text-anchor="middle" x="428.09" y="396.50">2.2</text>
<line class="g" x1="450.27" y1="238.40" x2="450.27" y2="388.70"/>
<text class="k" text-anchor="middle" x="450.27" y="396.50">2.4</text>
<line class="g" x1="472.45" y1="238.40" x2="472.45" y2="388.70"/>
<text class="k" text-anchor="middle" x="472.45" y="396.50">2.6</text>
<line class="g" x1="494.64" y1="238.40" x2="494.64" y2="388.70"/>
<text class="k" text-anchor="middle" x="494.64" y="396.50">2.8</text>
<line class="g" x1="516.82" y1="238.40" x2="516.82" y2="388.70"/>
<text class="k" text-anchor="middle" x="516.82" y="396.50">3</text>
<line class="g" x1="539.00" y1="238.40" x2="539.00" y2="388.70"/>
<text class="k" text-anchor="middle" x="539.00" y="396.50">3.2</text>
<line class="g" x1="295.00" y1="388.70" x2="539.00" y2="388.70"/>
<text class="k" text-anchor="end" x="292.00" y="388.30">0</text>
<line class="g" x1="295.00" y1="363.65" x2="539.00" y2="363.65"/>
<text class="k" text-anchor="end" x="292.00" y="365.65">300</text>
<line class="g" x1="295.00" y1="338.60" x2="539.00" y2="338.60"/>
<text class="k" text-anchor="end" x="292.00" y="340.60">600</text>
<line class="g" x1="295.00" y1="313.55" x2="539.00" y2="313.55"/>
<text class="k" text-anchor="end" x="292.00" y="315.55">900</text>
<line class="g" x1="295.00" y1="288.50" x2="539.00" y2="288.50"/>
<text class="k" text-anchor="end" x="292.00" y="290.50">1.2k</text>
<line class="g" x1="295.00" y1="263.45" x2="539.00" y2="263.45"/>
<text class="k" text-anchor="end" x="292.00" y="265.45">1.5k</text>
<line class="g" x1="295.00" y1="238.40" x2="539.00" y2="238.40"/>
<text class="k" text-anchor="end" x="292.00" y="243.10">1.8k</text>
<text class="x" text-anchor="middle" x="417.00" y="407.40">E2 DeepSeek scores</text>
<text class="c" text-anchor="middle" x="411.20" y="436.40">(<tspan font-weight="bold">d</tspan>)</text>
<line x1="428.10" y1="238.20" x2="428.10" y2="388.90" stroke="#1a1a2e" stroke-width="1.5"/>
<circle cx="404.69" cy="304.04" r="2.08" fill="#42348f"/>
<circle cx="410.09" cy="304.04" r="2.08" fill="#42348f"/>
<circle cx="408.45" cy="292.91" r="2.08" fill="#42348f"/>
<circle cx="413.85" cy="274.91" r="2.08" fill="#42348f"/>
<circle cx="416.15" cy="289.64" r="2.08" fill="#42348f"/>
<circle cx="419.42" cy="273.27" r="2.08" fill="#42348f"/>
<circle cx="421.55" cy="271.64" r="2.08" fill="#42348f"/>
<circle cx="422.69" cy="301.09" r="2.08" fill="#42348f"/>
<circle cx="424.0" cy="295.04" r="2.08" fill="#42348f"/>
<circle cx="425.15" cy="259.36" r="2.08" fill="#42348f"/>
<circle cx="427.27" cy="267.22" r="2.08" fill="#42348f"/>
<circle cx="428.42" cy="293.73" r="2.08" fill="#42348f"/>
<circle cx="429.73" cy="298.96" r="2.08" fill="#42348f"/>
<circle cx="430.87" cy="241.36" r="2.08" fill="#42348f"/>
<circle cx="431.85" cy="298.31" r="2.08" fill="#42348f"/>
<circle cx="433.0" cy="262.96" r="2.08" fill="#42348f"/>
<circle cx="433.82" cy="290.78" r="2.08" fill="#42348f"/>
<circle cx="435.13" cy="291.76" r="2.08" fill="#42348f"/>
<circle cx="436.27" cy="251.67" r="2.08" fill="#42348f"/>
<circle cx="438.4" cy="246.6" r="2.08" fill="#42348f"/>
<circle cx="439.55" cy="293.73" r="2.08" fill="#42348f"/>
<circle cx="440.69" cy="280.64" r="2.08" fill="#42348f"/>
<circle cx="441.67" cy="254.45" r="2.08" fill="#42348f"/>
<circle cx="442.82" cy="301.91" r="2.08" fill="#42348f"/>
<circle cx="443.96" cy="259.69" r="2.08" fill="#42348f"/>
<circle cx="444.95" cy="289.64" r="2.08" fill="#42348f"/>
<circle cx="446.09" cy="285.05" r="2.08" fill="#42348f"/>
<circle cx="447.24" cy="243.82" r="2.08" fill="#42348f"/>
<circle cx="448.55" cy="291.6" r="2.08" fill="#42348f"/>
<circle cx="449.69" cy="258.55" r="2.08" fill="#42348f"/>
<circle cx="450.67" cy="291.6" r="2.08" fill="#42348f"/>
<circle cx="451.49" cy="293.24" r="2.08" fill="#42348f"/>
<circle cx="452.64" cy="259.85" r="2.08" fill="#42348f"/>
<circle cx="453.78" cy="301.91" r="2.08" fill="#42348f"/>
<circle cx="455.09" cy="267.87" r="2.08" fill="#42348f"/>
<circle cx="456.24" cy="299.45" r="2.08" fill="#42348f"/>
<circle cx="457.22" cy="277.36" r="2.08" fill="#42348f"/>
<circle cx="458.36" cy="272.45" r="2.08" fill="#42348f"/>
<circle cx="459.67" cy="287.18" r="2.08" fill="#42348f"/>
<circle cx="463.91" cy="271.96" r="2.08" fill="#42348f"/>
<circle cx="462.76" cy="296.51" r="2.08" fill="#42348f"/>
<circle cx="466.04" cy="293.4" r="2.08" fill="#42348f"/>
<circle cx="469.31" cy="297.0" r="2.08" fill="#42348f"/>
<circle cx="471.27" cy="299.78" r="2.08" fill="#42348f"/>
<circle cx="472.09" cy="301.09" r="2.08" fill="#42348f"/>
<circle cx="374.85" cy="365.55" r="2.08" fill="#42348f"/>
<circle cx="380.91" cy="358.67" r="2.08" fill="#42348f"/>
<circle cx="382.87" cy="359.82" r="2.08" fill="#42348f"/>
<circle cx="386.31" cy="352.45" r="2.08" fill="#42348f"/>
<circle cx="388.27" cy="348.69" r="2.08" fill="#42348f"/>
<circle cx="389.58" cy="360.64" r="2.08" fill="#42348f"/>
<circle cx="391.55" cy="337.73" r="2.08" fill="#42348f"/>
<circle cx="392.36" cy="363.42" r="2.08" fill="#42348f"/>
<circle cx="393.67" cy="341.49" r="2.08" fill="#42348f"/>
<circle cx="395.15" cy="348.69" r="2.08" fill="#42348f"/>
<circle cx="396.45" cy="359.33" r="2.08" fill="#42348f"/>
<circle cx="397.27" cy="317.76" r="2.08" fill="#42348f"/>
<circle cx="398.42" cy="357.85" r="2.08" fill="#42348f"/>
<circle cx="399.73" cy="328.73" r="2.08" fill="#42348f"/>
<circle cx="400.55" cy="342.31" r="2.08" fill="#42348f"/>
<circle cx="401.85" cy="340.18" r="2.08" fill="#42348f"/>
<circle cx="403.0" cy="310.4" r="2.08" fill="#42348f"/>
<circle cx="404.15" cy="354.09" r="2.08" fill="#42348f"/>
<circle cx="406.27" cy="323.33" r="2.08" fill="#42348f"/>
<circle cx="407.09" cy="328.24" r="2.08" fill="#42348f"/>
<circle cx="409.55" cy="336.58" r="2.08" fill="#42348f"/>
<circle cx="412.0" cy="312.36" r="2.08" fill="#42348f"/>
<circle cx="413.15" cy="323.49" r="2.08" fill="#42348f"/>
<circle cx="414.95" cy="328.4" r="2.08" fill="#42348f"/>
<circle cx="417.24" cy="307.78" r="2.08" fill="#42348f"/>
<circle cx="418.22" cy="310.4" r="2.08" fill="#42348f"/>
<circle cx="420.51" cy="326.6" r="2.08" fill="#42348f"/>
<circle cx="425.91" cy="317.76" r="2.08" fill="#42348f"/>
<circle cx="437.27" cy="306.15" r="2.08" fill="#42348f"/>
<circle cx="459.36" cy="307.78" r="2.08" fill="#42348f"/>
<circle cx="461.82" cy="306.64" r="2.08" fill="#42348f"/>
<circle cx="464.76" cy="308.6" r="2.08" fill="#42348f"/>
<circle cx="467.22" cy="317.6" r="2.08" fill="#42348f"/>
<circle cx="468.36" cy="312.36" r="2.08" fill="#42348f"/>
<circle cx="470.82" cy="323.33" r="2.08" fill="#42348f"/>
<circle cx="472.78" cy="328.24" r="2.08" fill="#42348f"/>
<circle cx="474.09" cy="316.95" r="2.08" fill="#42348f"/>
<circle cx="475.24" cy="311.87" r="2.08" fill="#42348f"/>
<circle cx="476.22" cy="334.13" r="2.08" fill="#42348f"/>
<circle cx="477.36" cy="318.09" r="2.08" fill="#42348f"/>
<circle cx="478.18" cy="335.76" r="2.08" fill="#42348f"/>
<circle cx="479.33" cy="332.0" r="2.08" fill="#42348f"/>
<circle cx="480.64" cy="316.45" r="2.08" fill="#42348f"/>
<circle cx="481.78" cy="339.04" r="2.08" fill="#42348f"/>
<circle cx="482.76" cy="329.05" r="2.08" fill="#42348f"/>
<circle cx="483.91" cy="343.13" r="2.08" fill="#42348f"/>
<circle cx="485.05" cy="340.18" r="2.08" fill="#42348f"/>
<circle cx="486.36" cy="337.73" r="2.08" fill="#42348f"/>
<circle cx="488.0" cy="340.51" r="2.08" fill="#42348f"/>
<circle cx="487.18" cy="350.82" r="2.08" fill="#42348f"/>
<circle cx="489.64" cy="358.18" r="2.08" fill="#42348f"/>
<circle cx="490.78" cy="344.27" r="2.08" fill="#42348f"/>
<circle cx="492.09" cy="353.27" r="2.08" fill="#42348f"/>
<circle cx="492.91" cy="364.4" r="2.08" fill="#42348f"/>
<circle cx="494.87" cy="353.27" r="2.08" fill="#42348f"/>
<circle cx="495.36" cy="358.67" r="2.08" fill="#42348f"/>
<circle cx="496.51" cy="361.78" r="2.08" fill="#42348f"/>
<circle cx="497.33" cy="352.95" r="2.08" fill="#42348f"/>
<circle cx="498.64" cy="364.73" r="2.08" fill="#42348f"/>
<circle cx="500.27" cy="366.04" r="2.08" fill="#42348f"/>
<circle cx="502.87" cy="367.82" r="2.08" fill="#42348f"/>
<circle cx="500.09" cy="371.58" r="2.08" fill="#42348f"/>
<circle cx="502.22" cy="370.27" r="2.08" fill="#42348f"/>
<circle cx="504.18" cy="372.73" r="2.08" fill="#42348f"/>
<circle cx="506.64" cy="373.22" r="2.08" fill="#42348f"/>
<circle cx="505.82" cy="378.45" r="2.08" fill="#42348f"/>
<circle cx="507.78" cy="377.31" r="2.08" fill="#42348f"/>
<circle cx="509.09" cy="379.27" r="2.08" fill="#42348f"/>
<circle cx="510.73" cy="376.82" r="2.08" fill="#42348f"/>
<circle cx="512.36" cy="380.91" r="2.08" fill="#42348f"/>
<circle cx="513.67" cy="377.96" r="2.08" fill="#42348f"/>
<circle cx="514.82" cy="382.87" r="2.08" fill="#42348f"/>
<circle cx="516.45" cy="383.36" r="2.08" fill="#42348f"/>
<circle cx="518.58" cy="384.18" r="2.08" fill="#42348f"/>
<circle cx="520.55" cy="383.85" r="2.08" fill="#42348f"/>
<circle cx="522.18" cy="385.0" r="2.08" fill="#42348f"/>
<circle cx="523.82" cy="387.45" r="2.08" fill="#42348f"/>
<circle cx="525.45" cy="386.64" r="2.08" fill="#42348f"/>
<circle cx="526.76" cy="388.76" r="2.08" fill="#42348f"/>
<circle cx="528.4" cy="387.45" r="2.08" fill="#42348f"/>
<circle cx="529.55" cy="388.27" r="2.08" fill="#42348f"/>
<circle cx="531.51" cy="387.45" r="2.08" fill="#42348f"/>
<circle cx="315.87" cy="388.6" r="2.08" fill="#42348f"/>
<circle cx="318.33" cy="388.6" r="2.08" fill="#42348f"/>
<circle cx="324.55" cy="388.6" r="2.08" fill="#42348f"/>
<circle cx="327.0" cy="388.6" r="2.08" fill="#42348f"/>
<circle cx="328.96" cy="388.6" r="2.08" fill="#42348f"/>
<circle cx="331.09" cy="388.44" r="2.08" fill="#42348f"/>
<circle cx="333.05" cy="388.44" r="2.08" fill="#42348f"/>
<circle cx="335.18" cy="388.27" r="2.08" fill="#42348f"/>
<circle cx="337.31" cy="388.27" r="2.08" fill="#42348f"/>
<circle cx="339.27" cy="388.27" r="2.08" fill="#42348f"/>
<circle cx="341.24" cy="388.11" r="2.08" fill="#42348f"/>
<circle cx="343.36" cy="387.95" r="2.08" fill="#42348f"/>
<circle cx="345.33" cy="387.62" r="2.08" fill="#42348f"/>
<circle cx="347.45" cy="387.45" r="2.08" fill="#42348f"/>
<circle cx="347.45" cy="388.44" r="2.08" fill="#42348f"/>
<circle cx="349.42" cy="386.96" r="2.08" fill="#42348f"/>
<circle cx="351.55" cy="386.47" r="2.08" fill="#42348f"/>
<circle cx="352.04" cy="387.95" r="2.08" fill="#42348f"/>
<circle cx="353.51" cy="385.82" r="2.08" fill="#42348f"/>
<circle cx="355.64" cy="385.16" r="2.08" fill="#42348f"/>
<circle cx="356.45" cy="387.45" r="2.08" fill="#42348f"/>
<circle cx="357.6" cy="384.18" r="2.08" fill="#42348f"/>
<circle cx="359.73" cy="383.36" r="2.08" fill="#42348f"/>
<circle cx="360.22" cy="386.31" r="2.08" fill="#42348f"/>
<circle cx="361.85" cy="382.22" r="2.08" fill="#42348f"/>
<circle cx="363.6" cy="378.76" r="2.08" fill="#42348f"/>
<circle cx="364.91" cy="384.82" r="2.08" fill="#42348f"/>
<circle cx="366.22" cy="382.04" r="2.08" fill="#42348f"/>
<circle cx="367.69" cy="384.0" r="2.08" fill="#42348f"/>
<circle cx="369.0" cy="374.18" r="2.08" fill="#42348f"/>
<circle cx="370.15" cy="385.64" r="2.08" fill="#42348f"/>
<circle cx="371.13" cy="370.58" r="2.08" fill="#42348f"/>
<circle cx="372.27" cy="379.09" r="2.08" fill="#42348f"/>
<circle cx="373.09" cy="376.31" r="2.08" fill="#42348f"/>
<circle cx="376.04" cy="379.91" r="2.08" fill="#42348f"/>
<circle cx="377.18" cy="372.22" r="2.08" fill="#42348f"/>
<circle cx="378.33" cy="374.18" r="2.08" fill="#42348f"/>
<circle cx="379.64" cy="377.45" r="2.08" fill="#42348f"/>
<circle cx="382.09" cy="376.31" r="2.08" fill="#42348f"/>
<circle cx="384.55" cy="367.96" r="2.08" fill="#42348f"/>
<circle cx="387.33" cy="373.85" r="2.08" fill="#42348f"/>
<circle cx="341.58" cy="386.75" r="2.08" fill="#42348f"/>
<circle cx="343.8" cy="386.78" r="2.08" fill="#42348f"/>
<circle cx="344.9" cy="386.1" r="2.08" fill="#42348f"/>
<circle cx="347.12" cy="386.16" r="2.08" fill="#42348f"/>
<circle cx="348.23" cy="385.26" r="2.08" fill="#42348f"/>
<circle cx="350.45" cy="385.35" r="2.08" fill="#42348f"/>
<circle cx="351.56" cy="384.18" r="2.08" fill="#42348f"/>
<circle cx="353.78" cy="384.34" r="2.08" fill="#42348f"/>
<circle cx="354.89" cy="382.82" r="2.08" fill="#42348f"/>
<circle cx="357.1" cy="383.06" r="2.08" fill="#42348f"/>
<circle cx="358.21" cy="381.11" r="2.08" fill="#42348f"/>
<circle cx="360.43" cy="381.47" r="2.08" fill="#42348f"/>
<circle cx="361.54" cy="379.0" r="2.08" fill="#42348f"/>
</g>
<g>
<text class="t" x="5.0" y="454.0">E3 ChatGPT scores frequency</text>
<line class="g" x1="16.60" y1="460.40" x2="16.60" y2="610.70"/>
<text class="k" text-anchor="middle" x="16.60" y="618.50">2.9</text>
<line class="g" x1="38.78" y1="460.40" x2="38.78" y2="610.70"/>
<text class="k" text-anchor="middle" x="38.78" y="618.50">3</text>
<line class="g" x1="60.96" y1="460.40" x2="60.96" y2="610.70"/>
<text class="k" text-anchor="middle" x="60.96" y="618.50">3.1</text>
<line class="g" x1="83.15" y1="460.40" x2="83.15" y2="610.70"/>
<text class="k" text-anchor="middle" x="83.15" y="618.50">3.2</text>
<line class="g" x1="105.33" y1="460.40" x2="105.33" y2="610.70"/>
<text class="k" text-anchor="middle" x="105.33" y="618.50">3.3</text>
<line class="g" x1="127.51" y1="460.40" x2="127.51" y2="610.70"/>
<text class="k" text-anchor="middle" x="127.51" y="618.50">3.4</text>
<line class="g" x1="149.69" y1="460.40" x2="149.69" y2="610.70"/>
<text class="k" text-anchor="middle" x="149.69" y="618.50">3.5</text>
<line class="g" x1="171.87" y1="460.40" x2="171.87" y2="610.70"/>
<text class="k" text-anchor="middle" x="171.87" y="618.50">3.6</text>
<line class="g" x1="194.05" y1="460.40" x2="194.05" y2="610.70"/>
<text class="k" text-anchor="middle" x="194.05" y="618.50">3.7</text>
<line class="g" x1="216.24" y1="460.40" x2="216.24" y2="610.70"/>
<text class="k" text-anchor="middle" x="216.24" y="618.50">3.8</text>
<line class="g" x1="238.42" y1="460.40" x2="238.42" y2="610.70"/>
<text class="k" text-anchor="middle" x="238.42" y="618.50">3.9</text>
<line class="g" x1="260.60" y1="460.40" x2="260.60" y2="610.70"/>
<text class="k" text-anchor="middle" x="260.60" y="618.50">4</text>
<line class="g" x1="16.60" y1="610.70" x2="260.60" y2="610.70"/>
<text class="k" text-anchor="end" x="13.60" y="610.30">0</text>
<line class="g" x1="16.60" y1="585.65" x2="260.60" y2="585.65"/>
<text class="k" text-anchor="end" x="13.60" y="587.65">500</text>
<line class="g" x1="16.60" y1="560.60" x2="260.60" y2="560.60"/>
<text class="k" text-anchor="end" x="13.60" y="562.60">1k</text>
<line class="g" x1="16.60" y1="535.55" x2="260.60" y2="535.55"/>
<text class="k" text-anchor="end" x="13.60" y="537.55">1.5k</text>
<line class="g" x1="16.60" y1="510.50" x2="260.60" y2="510.50"/>
<text class="k" text-anchor="end" x="13.60" y="512.50">2k</text>
<line class="g" x1="16.60" y1="485.45" x2="260.60" y2="485.45"/>
<text class="k" text-anchor="end" x="13.60" y="487.45">2.5k</text>
<line class="g" x1="16.60" y1="460.40" x2="260.60" y2="460.40"/>
<text class="k" text-anchor="end" x="13.60" y="465.10">3k</text>
<text class="x" text-anchor="middle" x="138.60" y="629.40">E3 ChatGPT scores</text>
<text class="c" text-anchor="middle" x="132.80" y="658.40">(<tspan font-weight="bold">e</tspan>)</text>
<line x1="139.00" y1="460.20" x2="139.00" y2="610.90" stroke="#1a1a2e" stroke-width="1.5"/>
<circle cx="32.0" cy="608.2" r="2.08" fill="#42348f"/>
<circle cx="36.6" cy="608.2" r="2.08" fill="#42348f"/>
<circle cx="39.0" cy="607.6" r="2.08" fill="#42348f"/>
<circle cx="43.4" cy="606.0" r="2.08" fill="#42348f"/>
<circle cx="45.6" cy="608.2" r="2.08" fill="#42348f"/>
<circle cx="47.6" cy="607.2" r="2.08" fill="#42348f"/>
<circle cx="50.0" cy="600.4" r="2.08" fill="#42348f"/>
<circle cx="52.2" cy="604.8" r="2.08" fill="#42348f"/>
<circle cx="54.2" cy="596.4" r="2.08" fill="#42348f"/>
<circle cx="56.6" cy="602.6" r="2.08" fill="#42348f"/>
<circle cx="58.8" cy="600.4" r="2.08" fill="#42348f"/>
<circle cx="61.0" cy="594.4" r="2.08" fill="#42348f"/>
<circle cx="63.2" cy="603.6" r="2.08" fill="#42348f"/>
<circle cx="65.4" cy="588.2" r="2.08" fill="#42348f"/>
<circle cx="67.6" cy="592.4" r="2.08" fill="#42348f"/>
<circle cx="69.8" cy="589.8" r="2.08" fill="#42348f"/>
<circle cx="72.0" cy="579.4" r="2.08" fill="#42348f"/>
<circle cx="74.2" cy="592.4" r="2.08" fill="#42348f"/>
<circle cx="76.6" cy="572.8" r="2.08" fill="#42348f"/>
<circle cx="78.8" cy="581.2" r="2.08" fill="#42348f"/>
<circle cx="81.0" cy="581.6" r="2.08" fill="#42348f"/>
<circle cx="85.4" cy="582.4" r="2.08" fill="#42348f"/>
<circle cx="83.2" cy="561.0" r="2.08" fill="#42348f"/>
<circle cx="89.8" cy="561.0" r="2.08" fill="#42348f"/>
<circle cx="92.0" cy="568.0" r="2.08" fill="#42348f"/>
<circle cx="96.6" cy="568.4" r="2.08" fill="#42348f"/>
<circle cx="94.4" cy="535.6" r="2.08" fill="#42348f"/>
<circle cx="98.8" cy="532.6" r="2.08" fill="#42348f"/>
<circle cx="101.0" cy="539.6" r="2.08" fill="#42348f"/>
<circle cx="105.4" cy="511.6" r="2.08" fill="#42348f"/>
<circle cx="109.8" cy="512.2" r="2.08" fill="#42348f"/>
<circle cx="112.0" cy="521.6" r="2.08" fill="#42348f"/>
<circle cx="114.2" cy="530.2" r="2.08" fill="#42348f"/>
<circle cx="116.6" cy="494.0" r="2.08" fill="#42348f"/>
<circle cx="118.8" cy="539.6" r="2.08" fill="#42348f"/>
<circle cx="121.0" cy="506.8" r="2.08" fill="#42348f"/>
<circle cx="123.2" cy="501.0" r="2.08" fill="#42348f"/>
<circle cx="125.4" cy="533.8" r="2.08" fill="#42348f"/>
<circle cx="127.6" cy="474.8" r="2.08" fill="#42348f"/>
<circle cx="129.8" cy="517.4" r="2.08" fill="#42348f"/>
<circle cx="132.0" cy="489.2" r="2.08" fill="#42348f"/>
<circle cx="134.2" cy="483.2" r="2.08" fill="#42348f"/>
<circle cx="136.6" cy="519.2" r="2.08" fill="#42348f"/>
<circle cx="138.8" cy="465.0" r="2.08" fill="#42348f"/>
<circle cx="141.0" cy="514.8" r="2.08" fill="#42348f"/>
<circle cx="143.2" cy="490.6" r="2.08" fill="#42348f"/>
<circle cx="145.4" cy="480.4" r="2.08" fill="#42348f"/>
<circle cx="147.6" cy="518.4" r="2.08" fill="#42348f"/>
<circle cx="149.8" cy="469.6" r="2.08" fill="#42348f"/>
<circle cx="152.0" cy="505.2" r="2.08" fill="#42348f"/>
<circle cx="154.2" cy="503.0" r="2.08" fill="#42348f"/>
<circle cx="156.4" cy="489.8" r="2.08" fill="#42348f"/>
<circle cx="158.8" cy="533.2" r="2.08" fill="#42348f"/>
<circle cx="161.0" cy="487.8" r="2.08" fill="#42348f"/>
<circle cx="163.2" cy="523.0" r="2.08" fill="#42348f"/>
<circle cx="165.4" cy="523.8" r="2.08" fill="#42348f"/>
<circle cx="167.6" cy="495.2" r="2.08" fill="#42348f"/>
<circle cx="169.8" cy="538.0" r="2.08" fill="#42348f"/>
<circle cx="87.6" cy="555.0" r="2.08" fill="#42348f"/>
<circle cx="103.2" cy="554.6" r="2.08" fill="#42348f"/>
<circle cx="107.6" cy="552.0" r="2.08" fill="#42348f"/>
<circle cx="172.0" cy="505.8" r="2.08" fill="#42348f"/>
<circle cx="174.2" cy="531.0" r="2.08" fill="#42348f"/>
<circle cx="178.8" cy="520.6" r="2.08" fill="#42348f"/>
<circle cx="183.2" cy="535.4" r="2.08" fill="#42348f"/>
<circle cx="189.8" cy="539.6" r="2.08" fill="#42348f"/>
<circle cx="176.4" cy="542.6" r="2.08" fill="#42348f"/>
<circle cx="185.4" cy="553.8" r="2.08" fill="#42348f"/>
<circle cx="194.2" cy="556.6" r="2.08" fill="#42348f"/>
<circle cx="181.0" cy="564.8" r="2.08" fill="#42348f"/>
<circle cx="187.6" cy="561.2" r="2.08" fill="#42348f"/>
<circle cx="192.0" cy="572.2" r="2.08" fill="#42348f"/>
<circle cx="196.4" cy="571.0" r="2.08" fill="#42348f"/>
<circle cx="200.8" cy="572.2" r="2.08" fill="#42348f"/>
<circle cx="198.6" cy="585.6" r="2.08" fill="#42348f"/>
<circle cx="205.4" cy="581.6" r="2.08" fill="#42348f"/>
<circle cx="207.6" cy="582.0" r="2.08" fill="#42348f"/>
<circle cx="212.0" cy="584.8" r="2.08" fill="#42348f"/>
<circle cx="203.0" cy="593.6" r="2.08" fill="#42348f"/>
<circle cx="209.8" cy="596.0" r="2.08" fill="#42348f"/>
<circle cx="214.2" cy="603.6" r="2.08" fill="#42348f"/>
<circle cx="216.4" cy="597.4" r="2.08" fill="#42348f"/>
<circle cx="218.6" cy="600.4" r="2.08" fill="#42348f"/>
<circle cx="220.8" cy="605.2" r="2.08" fill="#42348f"/>
<circle cx="223.0" cy="600.6" r="2.08" fill="#42348f"/>
<circle cx="225.2" cy="605.4" r="2.08" fill="#42348f"/>
<circle cx="227.4" cy="606.0" r="2.08" fill="#42348f"/>
<circle cx="229.6" cy="604.6" r="2.08" fill="#42348f"/>
<circle cx="231.8" cy="608.6" r="2.08" fill="#42348f"/>
<circle cx="234.0" cy="607.4" r="2.08" fill="#42348f"/>
<circle cx="238.6" cy="609.2" r="2.08" fill="#42348f"/>
<circle cx="240.8" cy="608.4" r="2.08" fill="#42348f"/>
<circle cx="245.2" cy="609.0" r="2.08" fill="#42348f"/>
</g>
<g>
<text class="t" x="283.4" y="454.0">E3 DeepSeek scores frequency</text>
<line class="g" x1="295.00" y1="460.40" x2="295.00" y2="610.70"/>
<text class="k" text-anchor="middle" x="295.00" y="618.50">2.61</text>
<line class="g" x1="315.33" y1="460.40" x2="315.33" y2="610.70"/>
<text class="k" text-anchor="middle" x="315.33" y="618.50">2.7</text>
<line class="g" x1="335.67" y1="460.40" x2="335.67" y2="610.70"/>
<text class="k" text-anchor="middle" x="335.67" y="618.50">2.79</text>
<line class="g" x1="356.00" y1="460.40" x2="356.00" y2="610.70"/>
<text class="k" text-anchor="middle" x="356.00" y="618.50">2.88</text>
<line class="g" x1="376.33" y1="460.40" x2="376.33" y2="610.70"/>
<text class="k" text-anchor="middle" x="376.33" y="618.50">2.97</text>
<line class="g" x1="396.67" y1="460.40" x2="396.67" y2="610.70"/>
<text class="k" text-anchor="middle" x="396.67" y="618.50">3.06</text>
<line class="g" x1="417.00" y1="460.40" x2="417.00" y2="610.70"/>
<text class="k" text-anchor="middle" x="417.00" y="618.50">3.15</text>
<line class="g" x1="437.33" y1="460.40" x2="437.33" y2="610.70"/>
<text class="k" text-anchor="middle" x="437.33" y="618.50">3.24</text>
<line class="g" x1="457.67" y1="460.40" x2="457.67" y2="610.70"/>
<text class="k" text-anchor="middle" x="457.67" y="618.50">3.33</text>
<line class="g" x1="478.00" y1="460.40" x2="478.00" y2="610.70"/>
<text class="k" text-anchor="middle" x="478.00" y="618.50">3.42</text>
<line class="g" x1="498.33" y1="460.40" x2="498.33" y2="610.70"/>
<text class="k" text-anchor="middle" x="498.33" y="618.50">3.51</text>
<line class="g" x1="518.67" y1="460.40" x2="518.67" y2="610.70"/>
<text class="k" text-anchor="middle" x="518.67" y="618.50">3.6</text>
<line class="g" x1="539.00" y1="460.40" x2="539.00" y2="610.70"/>
<text class="k" text-anchor="middle" x="539.00" y="618.50">3.69</text>
<line class="g" x1="295.00" y1="610.70" x2="539.00" y2="610.70"/>
<text class="k" text-anchor="end" x="292.00" y="610.30">0</text>
<line class="g" x1="295.00" y1="585.65" x2="539.00" y2="585.65"/>
<text class="k" text-anchor="end" x="292.00" y="587.65">800</text>
<line class="g" x1="295.00" y1="560.60" x2="539.00" y2="560.60"/>
<text class="k" text-anchor="end" x="292.00" y="562.60">1.6k</text>
<line class="g" x1="295.00" y1="535.55" x2="539.00" y2="535.55"/>
<text class="k" text-anchor="end" x="292.00" y="537.55">2.4k</text>
<line class="g" x1="295.00" y1="510.50" x2="539.00" y2="510.50"/>
<text class="k" text-anchor="end" x="292.00" y="512.50">3.2k</text>
<line class="g" x1="295.00" y1="485.45" x2="539.00" y2="485.45"/>
<text class="k" text-anchor="end" x="292.00" y="487.45">4k</text>
<line class="g" x1="295.00" y1="460.40" x2="539.00" y2="460.40"/>
<text class="k" text-anchor="end" x="292.00" y="465.10">4.8k</text>
<text class="x" text-anchor="middle" x="417.00" y="629.40">E3 DeepSeek scores</text>
<text class="c" text-anchor="middle" x="411.20" y="658.40">(<tspan font-weight="bold">f</tspan>)</text>
<line x1="413.70" y1="460.20" x2="413.70" y2="610.90" stroke="#1a1a2e" stroke-width="1.5"/>
<circle cx="305.0" cy="607.6" r="2.08" fill="#42348f"/>
<circle cx="317.4" cy="596.0" r="2.08" fill="#42348f"/>
<circle cx="324.8" cy="604.0" r="2.08" fill="#42348f"/>
<circle cx="329.8" cy="588.2" r="2.08" fill="#42348f"/>
<circle cx="334.6" cy="607.2" r="2.08" fill="#42348f"/>
<circle cx="337.0" cy="582.2" r="2.08" fill="#42348f"/>
<circle cx="342.0" cy="574.2" r="2.08" fill="#42348f"/>
<circle cx="344.4" cy="608.4" r="2.08" fill="#42348f"/>
<circle cx="347.0" cy="596.2" r="2.08" fill="#42348f"/>
<circle cx="349.4" cy="568.4" r="2.08" fill="#42348f"/>
<circle cx="354.4" cy="560.8" r="2.08" fill="#42348f"/>
<circle cx="356.8" cy="596.0" r="2.08" fill="#42348f"/>
<circle cx="359.2" cy="588.0" r="2.08" fill="#42348f"/>
<circle cx="361.8" cy="537.0" r="2.08" fill="#42348f"/>
<circle cx="369.2" cy="590.0" r="2.08" fill="#42348f"/>
<circle cx="371.6" cy="574.8" r="2.08" fill="#42348f"/>
<circle cx="381.4" cy="574.4" r="2.08" fill="#42348f"/>
<circle cx="384.0" cy="568.6" r="2.08" fill="#42348f"/>
<circle cx="393.8" cy="567.6" r="2.08" fill="#42348f"/>
<circle cx="366.8" cy="524.6" r="2.08" fill="#42348f"/>
<circle cx="374.2" cy="521.2" r="2.08" fill="#42348f"/>
<circle cx="379.0" cy="513.6" r="2.08" fill="#42348f"/>
<circle cx="386.4" cy="478.8" r="2.08" fill="#42348f"/>
<circle cx="391.4" cy="487.4" r="2.08" fill="#42348f"/>
<circle cx="398.8" cy="472.6" r="2.08" fill="#42348f"/>
<circle cx="403.8" cy="480.8" r="2.08" fill="#42348f"/>
<circle cx="411.2" cy="468.8" r="2.08" fill="#42348f"/>
<circle cx="416.0" cy="462.4" r="2.08" fill="#42348f"/>
<circle cx="423.4" cy="479.6" r="2.08" fill="#42348f"/>
<circle cx="428.4" cy="472.6" r="2.08" fill="#42348f"/>
<circle cx="435.8" cy="495.4" r="2.08" fill="#42348f"/>
<circle cx="396.2" cy="553.4" r="2.08" fill="#42348f"/>
<circle cx="406.2" cy="552.8" r="2.08" fill="#42348f"/>
<circle cx="408.6" cy="553.0" r="2.08" fill="#42348f"/>
<circle cx="418.6" cy="553.8" r="2.08" fill="#42348f"/>
<circle cx="421.0" cy="560.2" r="2.08" fill="#42348f"/>
<circle cx="431.0" cy="561.8" r="2.08" fill="#42348f"/>
<circle cx="433.4" cy="567.4" r="2.08" fill="#42348f"/>
<circle cx="443.2" cy="567.2" r="2.08" fill="#42348f"/>
<circle cx="445.8" cy="582.4" r="2.08" fill="#42348f"/>
<circle cx="455.6" cy="582.0" r="2.08" fill="#42348f"/>
<circle cx="458.0" cy="589.4" r="2.08" fill="#42348f"/>
<circle cx="460.6" cy="547.2" r="2.08" fill="#42348f"/>
<circle cx="465.4" cy="553.6" r="2.08" fill="#42348f"/>
<circle cx="468.0" cy="588.8" r="2.08" fill="#42348f"/>
<circle cx="470.4" cy="603.2" r="2.08" fill="#42348f"/>
<circle cx="473.0" cy="561.8" r="2.08" fill="#42348f"/>
<circle cx="477.8" cy="566.6" r="2.08" fill="#42348f"/>
<circle cx="480.2" cy="604.2" r="2.08" fill="#42348f"/>
<circle cx="482.8" cy="607.6" r="2.08" fill="#42348f"/>
<circle cx="485.2" cy="583.2" r="2.08" fill="#42348f"/>
<circle cx="490.2" cy="597.4" r="2.08" fill="#42348f"/>
<circle cx="492.6" cy="608.2" r="2.08" fill="#42348f"/>
<circle cx="497.6" cy="589.4" r="2.08" fill="#42348f"/>
<circle cx="502.4" cy="604.4" r="2.08" fill="#42348f"/>
<circle cx="509.8" cy="604.0" r="2.08" fill="#42348f"/>
<circle cx="522.2" cy="608.2" r="2.08" fill="#42348f"/>
<circle cx="440.8" cy="504.0" r="2.08" fill="#42348f"/>
<circle cx="448.2" cy="509.6" r="2.08" fill="#42348f"/>
<circle cx="453.2" cy="520.2" r="2.08" fill="#42348f"/>
</g>
</svg></body></html>
